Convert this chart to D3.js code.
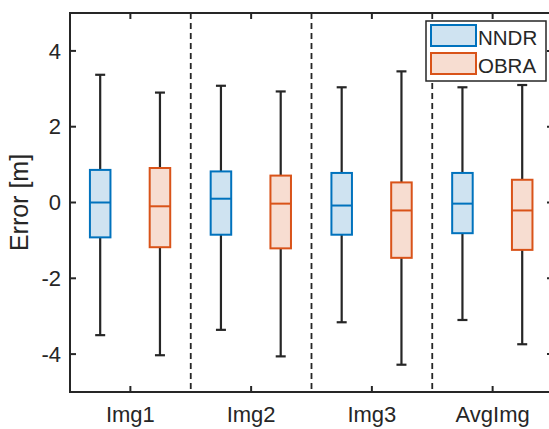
<!DOCTYPE html>
<html>
<head>
<meta charset="utf-8">
<script src="https://cdn.jsdelivr.net/npm/d3@7"></script>
<style>
  body { margin: 0; background: #fff; }
  text { font-family: "Liberation Sans", Arial, sans-serif; fill: #262626; }
</style>
</head>
<body>
<div id="container"></div>
<script>
// categories and series
const categories = ["Img1", "Img2", "Img3", "AvgImg"];
const seriesNames = ["NNDR", "OBRA"];

// box stats (whisker low, q1, median, q3, whisker high)
const nndrLow = [-3.5, -3.36, -3.16, -3.1];
const nndrQ1 = [-0.92, -0.85, -0.85, -0.81];
const nndrMed = [0, 0.1, -0.08, -0.03];
const nndrQ3 = [0.86, 0.82, 0.78, 0.78];
const nndrHigh = [3.37, 3.08, 3.04, 3.04];

const obraLow = [-4.03, -4.06, -4.28, -3.74];
const obraQ1 = [-1.18, -1.21, -1.46, -1.25];
const obraMed = [-0.1, -0.03, -0.21, -0.21];
const obraQ3 = [0.91, 0.71, 0.53, 0.6];
const obraHigh = [2.9, 2.93, 3.46, 3.1];

const yTicks = [-4, -2, 0, 2, 4];

const width = 549;
const height = 429;
const margin = { left: 70, top: 13, right: 553, bottom: 392 };

const edgeColors = ["#0072BD", "#D95319"];
const fillColors = ["#cfe3f1", "#f7ddd1"];
const offsets = [-0.25, 0.245];
const boxW = 0.17;

const svg = d3
  .select("#container")
  .append("svg")
  .attr("width", width)
  .attr("height", height);

const x = d3.scaleLinear().domain([0.5, 4.5]).range([margin.left, margin.right]);
const y = d3.scaleLinear().domain([-5, 5]).range([margin.bottom, margin.top]);

// build box rows from the arrays
function rows(s, low, q1, med, q3, high) {
  return categories.map((c, i) => ({
    s: s, i: i, low: low[i], q1: q1[i], med: med[i], q3: q3[i], high: high[i]
  }));
}
const boxes = rows(0, nndrLow, nndrQ1, nndrMed, nndrQ3, nndrHigh).concat(
  rows(1, obraLow, obraQ1, obraMed, obraQ3, obraHigh)
);

const cx = (d) => x(d.i + 1 + offsets[d.s]);
const capHalf = 5;

const g = svg.append("g");

// whiskers
g.selectAll(".wl")
  .data(boxes)
  .enter()
  .append("line")
  .attr("x1", cx).attr("x2", cx)
  .attr("y1", (d) => y(d.high)).attr("y2", (d) => y(d.low))
  .attr("stroke", "#262626")
  .attr("stroke-width", 2.2);

// caps
["low", "high"].forEach((k) => {
  g.selectAll(".cap-" + k)
    .data(boxes)
    .enter()
    .append("line")
    .attr("x1", (d) => cx(d) - capHalf).attr("x2", (d) => cx(d) + capHalf)
    .attr("y1", (d) => y(d[k])).attr("y2", (d) => y(d[k]))
    .attr("stroke", "#262626")
    .attr("stroke-width", 2.2);
});

// boxes
const bw = x(boxW) - x(0);
g.selectAll(".box")
  .data(boxes)
  .enter()
  .append("rect")
  .attr("x", (d) => cx(d) - bw / 2)
  .attr("width", bw)
  .attr("y", (d) => y(d.q3))
  .attr("height", (d) => y(d.q1) - y(d.q3))
  .attr("fill", (d) => fillColors[d.s])
  .attr("stroke", (d) => edgeColors[d.s])
  .attr("stroke-width", 2);

// medians
g.selectAll(".med")
  .data(boxes)
  .enter()
  .append("line")
  .attr("x1", (d) => cx(d) - bw / 2).attr("x2", (d) => cx(d) + bw / 2)
  .attr("y1", (d) => y(d.med)).attr("y2", (d) => y(d.med))
  .attr("stroke", (d) => edgeColors[d.s])
  .attr("stroke-width", 2);

// legend
const lg = svg.append("g").attr("transform", "translate(426,21)");
lg.append("rect")
  .attr("width", 120).attr("height", 60)
  .attr("fill", "#fff").attr("stroke", "#262626").attr("stroke-width", 1.5);
seriesNames.forEach((name, i) => {
  lg.append("rect")
    .attr("x", 5).attr("y", 4 + i * 28)
    .attr("width", 45).attr("height", 21)
    .attr("fill", fillColors[i])
    .attr("stroke", edgeColors[i])
    .attr("stroke-width", 2);
  lg.append("text")
    .attr("x", 52).attr("y", 24 + i * 28)
    .attr("font-size", 20.5)
    .text(name);
});

// group separators
g.selectAll(".sep")
  .data(categories.slice(1))
  .enter()
  .append("line")
  .attr("x1", (d, i) => x(i + 1.5)).attr("x2", (d, i) => x(i + 1.5))
  .attr("y1", margin.top).attr("y2", margin.bottom)
  .attr("stroke", "#262626")
  .attr("stroke-width", 1.8)
  .attr("stroke-dasharray", "6,4");

// axes frame
svg.append("rect")
  .attr("x", margin.left).attr("y", margin.top)
  .attr("width", margin.right - margin.left)
  .attr("height", margin.bottom - margin.top)
  .attr("fill", "none")
  .attr("stroke", "#262626")
  .attr("stroke-width", 2);

const tickLen = 6;
// y ticks left & right
yTicks.forEach((t) => {
  svg.append("line")
    .attr("x1", margin.left).attr("x2", margin.left + tickLen)
    .attr("y1", y(t)).attr("y2", y(t))
    .attr("stroke", "#262626").attr("stroke-width", 2);
  svg.append("line")
    .attr("x1", margin.right).attr("x2", margin.right - tickLen)
    .attr("y1", y(t)).attr("y2", y(t))
    .attr("stroke", "#262626").attr("stroke-width", 2);
  svg.append("text")
    .attr("x", 61).attr("y", y(t))
    .attr("dy", "0.35em")
    .attr("text-anchor", "end")
    .attr("font-size", 22)
    .text(t);
});

// x ticks bottom & top
categories.forEach((c, i) => {
  svg.append("line")
    .attr("x1", x(i + 1)).attr("x2", x(i + 1))
    .attr("y1", margin.bottom).attr("y2", margin.bottom - tickLen)
    .attr("stroke", "#262626").attr("stroke-width", 2);
  svg.append("line")
    .attr("x1", x(i + 1)).attr("x2", x(i + 1))
    .attr("y1", margin.top).attr("y2", margin.top + tickLen)
    .attr("stroke", "#262626").attr("stroke-width", 2);
  svg.append("text")
    .attr("x", x(i + 1)).attr("y", 422)
    .attr("text-anchor", "middle")
    .attr("font-size", 22)
    .text(c);
});

// y label
svg.append("text")
  .attr("transform", "translate(28," + y(0) + ") rotate(-90)")
  .attr("text-anchor", "middle")
  .attr("font-size", 25)
  .text("Error [m]");
</script>
</body>
</html>
